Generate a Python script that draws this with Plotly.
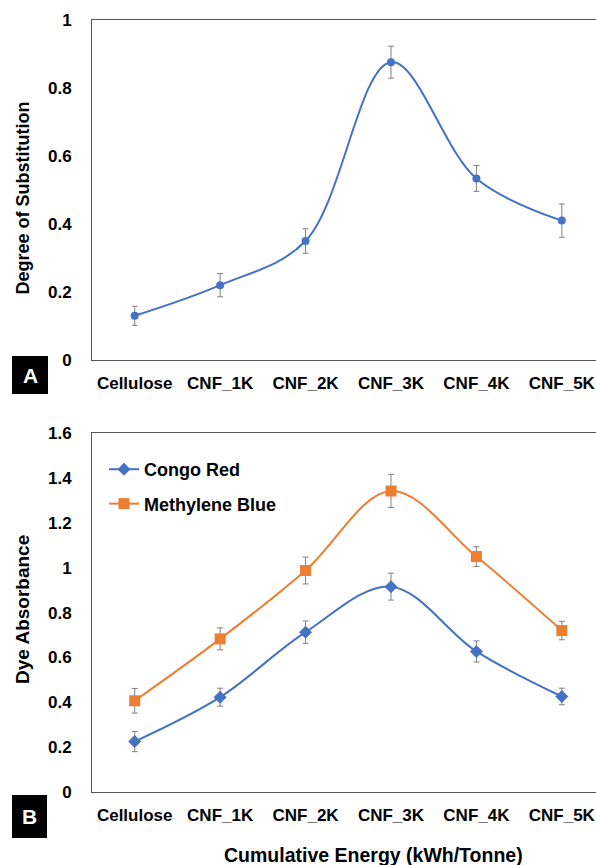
import plotly.graph_objects as go
from plotly.subplots import make_subplots

categories = ["Cellulose", "CNF_1K", "CNF_2K", "CNF_3K", "CNF_4K", "CNF_5K"]

ds_values = [0.13, 0.22, 0.35, 0.876, 0.534, 0.41]
ds_errors = [0.028, 0.034, 0.036, 0.047, 0.038, 0.049]

congo_values = [0.225, 0.423, 0.713, 0.916, 0.627, 0.426]
congo_errors = [0.045, 0.04, 0.05, 0.06, 0.047, 0.037]

mb_values = [0.407, 0.683, 0.988, 1.343, 1.05, 0.72]
mb_errors = [0.055, 0.049, 0.06, 0.074, 0.044, 0.041]

top_ticks = [0, 0.2, 0.4, 0.6, 0.8, 1]
bottom_ticks = [0, 0.2, 0.4, 0.6, 0.8, 1, 1.2, 1.4, 1.6]

BLUE = "#4472C4"
ORANGE = "#ED7D31"
ERR = "#808080"
FONT = "Liberation Sans, Arial, sans-serif"

W, H = 596, 865
ML, MR, MT, MB = 92, 0, 20, 73
PW = W - ML - MR
PH = H - MT - MB

def px_x(px):
    return (px - ML) / PW

def px_y(py):
    return (H - MB - py) / PH

fig = make_subplots(rows=2, cols=1, vertical_spacing=0.05)

fig.add_trace(go.Scatter(
    x=categories, y=ds_values, mode="lines+markers",
    line=dict(color=BLUE, width=2, shape="spline"),
    marker=dict(symbol="circle", size=8, color=BLUE),
    error_y=dict(type="data", array=ds_errors, color=ERR, thickness=1, width=3),
    showlegend=False, name="DS"), row=1, col=1)

fig.add_trace(go.Scatter(
    x=categories, y=congo_values, mode="lines+markers", name="Congo Red",
    line=dict(color=BLUE, width=2, shape="spline"),
    marker=dict(symbol="diamond", size=10, color=BLUE),
    error_y=dict(type="data", array=congo_errors, color=ERR, thickness=1, width=3),
    legendgroup="a"), row=2, col=1)

fig.add_trace(go.Scatter(
    x=categories, y=mb_values, mode="lines+markers", name="Methylene Blue",
    line=dict(color=ORANGE, width=2, shape="spline"),
    marker=dict(symbol="square", size=11, color=ORANGE),
    error_y=dict(type="data", array=mb_errors, color=ERR, thickness=1, width=3),
    legendgroup="b"), row=2, col=1)

tickfont = dict(family=FONT, size=17, color="black", weight="bold")
ytickfont = dict(family=FONT, size=17, color="black", weight="bold")

xcommon = dict(type="category", range=[-0.5, 5.4], showline=True, mirror=True,
               linecolor="#555555", linewidth=1, showgrid=False, zeroline=False,
               tickfont=tickfont, ticks="", ticklabelstandoff=8)
fig.update_xaxes(**xcommon)
fig.update_xaxes(domain=[0, 1])

fig.update_yaxes(showline=True, mirror=False, linecolor="#555555", linewidth=1,
                 showgrid=False, zeroline=False, tickfont=ytickfont, ticks="",
                 ticklabelstandoff=16)
fig.update_yaxes(range=[0, 1], tickvals=top_ticks, ticktext=[f"{v:g}" for v in top_ticks],
                 domain=[px_y(360), 1], row=1, col=1)
fig.update_yaxes(range=[0, 1.6], tickvals=bottom_ticks, ticktext=[f"{v:g}" for v in bottom_ticks],
                 domain=[0, px_y(433.3)], row=2, col=1)

annots = [
    dict(text="Degree of Substitution", x=px_x(22), y=px_y(198.5), textangle=-90,
         font=dict(family=FONT, size=18, color="black", weight="bold")),
    dict(text="Dye Absorbance", x=px_x(22), y=px_y(610), textangle=-90,
         font=dict(family=FONT, size=19, color="black", weight="bold")),
    dict(text="Cumulative Energy (kWh/Tonne)", x=px_x(373), y=px_y(855),
         font=dict(family=FONT, size=19.5, color="black", weight="bold")),
    dict(text="A", x=px_x(30), y=px_y(375),
         font=dict(family=FONT, size=21, color="white", weight="bold")),
    dict(text="B", x=px_x(29.5), y=px_y(816.5),
         font=dict(family=FONT, size=21, color="white", weight="bold")),
]
for a in annots:
    a.update(xref="paper", yref="paper", showarrow=False, xanchor="center", yanchor="middle")

shapes = [
    dict(type="rect", xref="paper", yref="paper", x0=px_x(12), x1=px_x(48),
         y0=px_y(394), y1=px_y(356), fillcolor="black", line=dict(width=0), layer="below"),
    dict(type="rect", xref="paper", yref="paper", x0=px_x(12), x1=px_x(47),
         y0=px_y(838), y1=px_y(795), fillcolor="black", line=dict(width=0), layer="below"),
]

fig.update_layout(
    width=W, height=H,
    margin=dict(l=ML, r=MR, t=MT, b=MB),
    paper_bgcolor="white", plot_bgcolor="white",
    annotations=annots, shapes=shapes,
    legend=dict(x=px_x(104), y=px_y(451), xanchor="left", yanchor="top",
                bgcolor="rgba(0,0,0,0)", tracegroupgap=8, traceorder="grouped",
                font=dict(family=FONT, size=18, color="black", weight="bold")),
)

fig.write_html("out.html", config={"displayModeBar": False},
               post_script="document.body.style.margin='0px';document.body.style.overflow='hidden';")
